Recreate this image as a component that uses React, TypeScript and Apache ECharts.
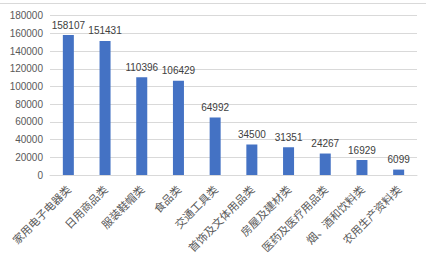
import React, { useEffect, useRef } from "react";
import * as echarts from "echarts";

const categories = [
  "家用电子电器类",
  "日用商品类",
  "服装鞋帽类",
  "食品类",
  "交通工具类",
  "首饰及文体用品类",
  "房屋及建材类",
  "医药及医疗用品类",
  "烟、酒和饮料类",
  "农用生产资料类",
];
const values = [158107, 151431, 110396, 106429, 64992, 34500, 31351, 24267, 16929, 6099];
const yMin = 0;
const yMax = 180000;
const yInterval = 20000;

export default function App() {
  const ref = useRef<HTMLDivElement>(null);
  useEffect(() => {
    document.body.style.margin = "0";
    const chart = echarts.init(ref.current!, null, { renderer: "svg" });
    chart.setOption({
      animation: false,
      backgroundColor: "#ffffff",
      grid: { left: 50, right: 9, top: 15.7, bottom: 84, containLabel: false },
      graphic: [
        {
          type: "line",
          shape: { x1: 0, y1: 3.5, x2: 426, y2: 3.5 },
          style: { stroke: "#D9D9D9", lineWidth: 1 },
        },
      ],
      xAxis: {
        type: "category",
        data: categories,
        axisLine: { lineStyle: { color: "#D9D9D9" } },
        axisTick: { show: false },
        axisLabel: {
          interval: 0,
          rotate: 45,
          color: "#595959",
          fontSize: 11,
          margin: 12,
          fontFamily: "Noto Sans CJK SC",
        },
      },
      yAxis: {
        type: "value",
        min: yMin,
        max: yMax,
        interval: yInterval,
        axisLine: { show: false },
        axisTick: { show: false },
        splitLine: { lineStyle: { color: "#D9D9D9" } },
        axisLabel: {
          color: "#595959",
          fontSize: 10,
          margin: 7,
          fontFamily: "Liberation Sans",
          formatter: (v: number) => String(v),
        },
      },
      series: [
        {
          type: "bar",
          data: values,
          barWidth: "30%",
          itemStyle: { color: "#4472C4" },
          label: {
            show: true,
            position: "top",
            distance: 5,
            color: "#404040",
            fontSize: 10,
            fontFamily: "Liberation Sans",
          },
        },
      ],
    });
    return () => chart.dispose();
  }, []);
  return <div ref={ref} style={{ width: 426, height: 259 }} />;
}
